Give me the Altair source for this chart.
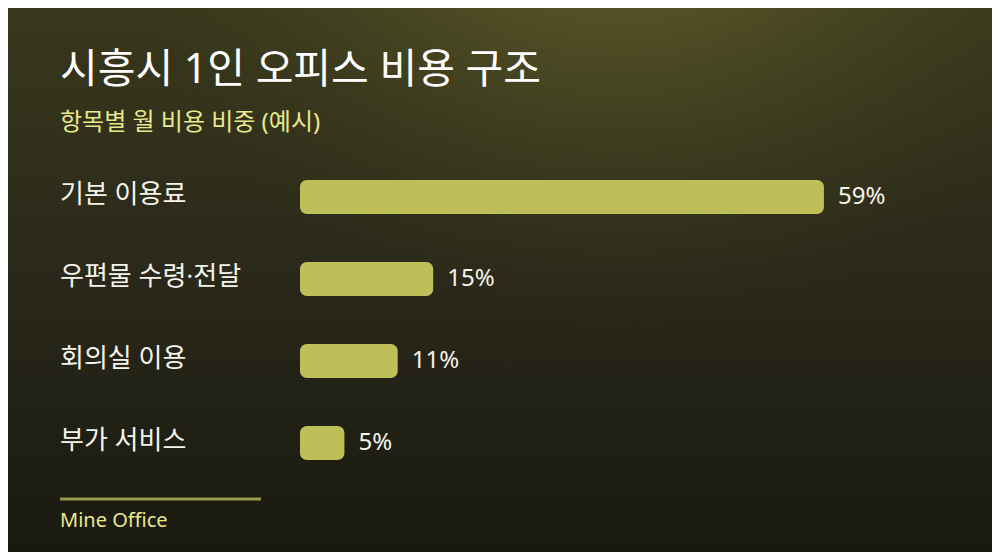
import altair as alt
import pandas as pd

# --- data ---
categories = ["기본 이용료", "우편물 수령·전달", "회의실 이용", "부가 서비스"]
shares = [59, 15, 11, 5]

title_text = "시흥시 1인 오피스 비용 구조"
subtitle_text = "항목별 월 비용 비중 (예시)"
footer_text = "Mine Office"

FONT = "Noto Sans, Noto Sans CJK KR"
W, H = 984, 544

bars_df = pd.DataFrame({"cat": categories, "share": shares})
one = pd.DataFrame({"k": [0]})

x_scale = alt.Scale(domain=[0, 100], range=[292, 1180])
y_scale = alt.Scale(domain=categories, range=[148, 476], paddingInner=0, paddingOuter=0)

# background: vertical base gradient + radial highlight
bg_base = alt.Chart(one).mark_rect(
    fill=alt.LinearGradient(
        gradient="linear", x1=0, y1=0, x2=0, y2=1,
        stops=[alt.GradientStop(offset=0, color="#39381c"),
               alt.GradientStop(offset=0.5, color="#29281a"),
               alt.GradientStop(offset=1, color="#1a1910")],
    )
).encode(x=alt.value(0), x2=alt.value(W), y=alt.value(0), y2=alt.value(H))

bg_glow = alt.Chart(one).mark_rect(
    fill=alt.RadialGradient(
        gradient="radial", x1=0.62, y1=0.0, r1=0, x2=0.62, y2=0.0, r2=0.55,
        stops=[alt.GradientStop(offset=0, color="rgba(96,93,42,1)"),
               alt.GradientStop(offset=0.4, color="rgba(88,86,40,0.85)"),
               alt.GradientStop(offset=1, color="rgba(60,58,28,0)")],
    )
).encode(x=alt.value(0), x2=alt.value(W), y=alt.value(0), y2=alt.value(H))

bars = alt.Chart(bars_df).mark_bar(
    color="#bfbf5a", height=34, cornerRadius=7
).encode(
    x=alt.X("share:Q", scale=x_scale, axis=None),
    x2=alt.datum(0),
    y=alt.Y("cat:N", scale=y_scale, axis=None, sort=None),
)

value_labels = alt.Chart(bars_df).transform_calculate(
    label="datum.share + '%'"
).mark_text(
    align="left", baseline="middle", dx=14, font=FONT, fontSize=24, color="#f4f4ec"
).encode(
    x=alt.X("share:Q", scale=x_scale, axis=None),
    y=alt.Y("cat:N", scale=y_scale, axis=None, sort=None),
    text="label:N",
)

cat_labels = alt.Chart(bars_df).mark_text(
    align="left", baseline="middle", font=FONT, fontSize=26, color="#f4f4ec", dy=-2
).encode(
    x=alt.value(52),
    y=alt.Y("cat:N", scale=y_scale, axis=None, sort=None),
    text="cat:N",
)

title = alt.Chart(one).mark_text(
    align="left", baseline="middle", font=FONT, fontSize=41, color="#ffffff"
).encode(x=alt.value(52), y=alt.value(63), text=alt.value(title_text))

subtitle = alt.Chart(one).mark_text(
    align="left", baseline="middle", font=FONT, fontSize=24, color="#e8e88c"
).encode(x=alt.value(52), y=alt.value(115), text=alt.value(subtitle_text))

footer_rule = alt.Chart(one).mark_rule(
    color="#9a9a4e", strokeWidth=3
).encode(x=alt.value(52), x2=alt.value(253), y=alt.value(491))

footer = alt.Chart(one).mark_text(
    align="left", baseline="middle", font=FONT, fontSize=20, color="#e8e88c"
).encode(x=alt.value(52), y=alt.value(513), text=alt.value(footer_text))

chart = alt.layer(
    bg_base, bg_glow, bars, value_labels, cat_labels, title, subtitle, footer_rule, footer
).properties(
    width=W, height=H, padding=0,
    autosize=alt.AutoSizeParams(type="fit", contains="padding"),
    background="#1c1b10",
).configure_view(stroke=None)

chart.save("out.html", embed_options={"renderer": "svg", "actions": False})
